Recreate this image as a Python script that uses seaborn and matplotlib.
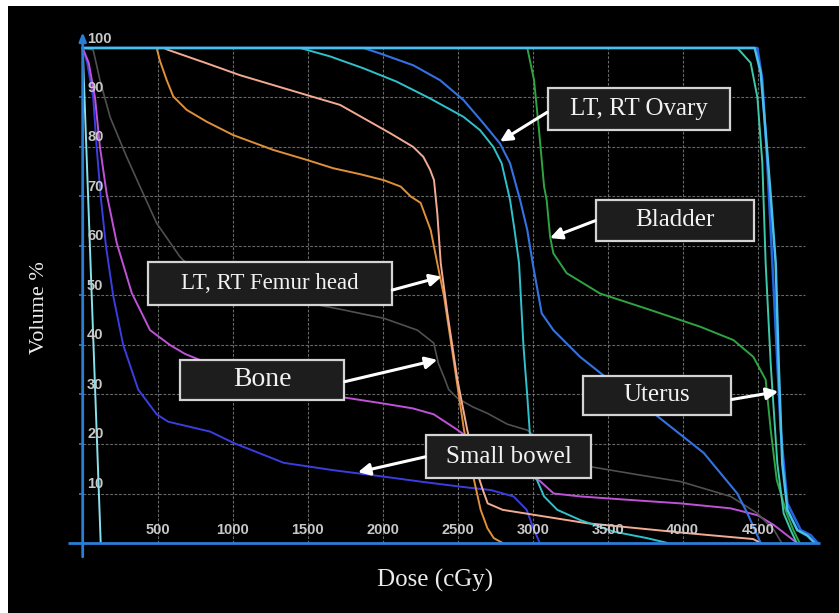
import matplotlib
matplotlib.use("Agg")
import matplotlib.pyplot as plt
from matplotlib.patches import Rectangle
import seaborn as sns
import pandas as pd

# ---- dose-volume histogram data (dose in cGy, volume in %) ----
body_dose = [0, 120]
body_vol = [100, 0]

bowel_dose = [0, 30, 70, 93, 120, 155, 203, 270, 370, 493, 570, 850, 1007, 1340, 1673, 1984,
              2253, 2540, 2720, 2873, 2960, 3000, 3047]
bowel_vol = [100, 97, 90, 80, 70, 60, 50, 40, 31, 26, 24.5, 22.5, 20.2, 16.2, 14.7, 13.5,
             12.4, 11.3, 10.7, 9.4, 6.7, 3.3, 0]

rectum_dose = [0, 40, 82, 115, 160, 227, 327, 449, 582, 682, 900, 1200, 1500, 1763, 2000, 2200,
               2340, 2491, 2700, 2900, 3049, 3140, 3320, 3600, 3987, 4320, 4500, 4609, 4720, 4760]
rectum_vol = [100, 97, 90, 80, 70.5, 60.6, 50.5, 43, 40, 38.2, 35.5, 32.5, 30.5, 29.3, 28.2, 27.2,
              26.0, 23.0, 18.5, 15, 12.5, 10, 9.4, 8.8, 8.0, 7.0, 5.6, 3.6, 1, 0]

bone_dose = [0, 70, 115, 183, 293, 382, 493, 649, 675, 900, 1200, 1500, 1720, 2007, 2231, 2340,
             2371, 2409, 2440, 2500, 2600, 2698, 2831, 2964, 3100, 3387, 3700, 3987, 4320, 4498,
             4609, 4660]
bone_vol = [100, 99.6, 93.5, 86, 78, 72, 64.6, 57.8, 57, 53.5, 50.5, 48.5, 47.2, 45.4, 43, 40.4,
            36.3, 33.5, 31, 29.2, 27.5, 26.2, 24.0, 22.8, 19.5, 15.4, 13.8, 12.4, 9.4, 6,
            2.6, 0]

femur_l_dose = [0, 493, 515, 560, 604, 693, 827, 1004, 1271, 1493, 1671, 1850, 2007, 2120, 2187,
                2253, 2320, 2364, 2409, 2476, 2542, 2609, 2653, 2698, 2740, 2800]
femur_l_vol = [100, 100, 97.4, 93.5, 90.2, 87.5, 85.1, 82.4, 79.4, 77.4, 75.7, 74.5, 73.3, 72, 70,
               68.7, 63.2, 56.5, 49.8, 36.3, 22.8, 12.7, 6.7, 3, 1, 0]

femur_r_dose = [0, 540, 571, 827, 1049, 1271, 1493, 1716, 2049, 2204, 2271, 2316, 2342, 2364,
                2387, 2431, 2498, 2564, 2631, 2670, 2700, 2800, 3360, 4027, 4470, 4520]
femur_r_vol = [100, 100, 99.6, 96.9, 94.5, 92.5, 90.5, 88.5, 82.8, 80, 78, 75.4, 73.3, 66.6,
               56.5, 46.5, 33, 22.8, 14.1, 10.5, 8.0, 6.7, 4.0, 2.0, 0.8, 0]

ovary_l_dose = [0, 1449, 1649, 1871, 2093, 2316, 2538, 2649, 2738, 2793, 2849, 2880, 2909, 2938,
                2964, 2987, 3009, 3076, 3164, 3320, 3540, 3760, 3900]
ovary_l_vol = [100, 100, 98.3, 95.9, 93.2, 89.8, 86.1, 83.4, 80, 76.7, 69.3, 63, 56.5, 40,
               29.6, 19.5, 14.1, 9.4, 6.7, 4.6, 2.3, 1, 0]

ovary_r_dose = [0, 1871, 1982, 2204, 2382, 2538, 2671, 2782, 2849, 2916, 2964, 3004, 3060, 3138,
                3316, 3453, 3807, 4140, 4364, 4431, 4520]
ovary_r_vol = [100, 100, 98.9, 96.5, 93.5, 89.5, 84.8, 80.7, 76.7, 69.3, 63.2, 55.8, 46.4, 43,
               37.6, 34.3, 26.2, 18.2, 10, 6, 0]

bladder_dose = [0, 2964, 3009, 3042, 3076, 3093, 3116, 3138, 3227, 3449, 3782, 4116, 4338, 4471,
                4553, 4587, 4627, 4693, 4738, 4780]
bladder_vol = [100, 100, 93.5, 83.4, 72, 69.3, 61.9, 58.5, 54.5, 50.4, 47.1, 43.7, 41, 37.6,
               33, 22.8, 12.7, 6, 2.6, 0]

ctv_dose = [0, 4364, 4453, 4498, 4531, 4553, 4587, 4631, 4673, 4720, 4760]
ctv_vol = [100, 100, 97, 90, 76.7, 56.5, 36, 16, 6, 2.6, 0]

ptv_dose = [0, 4498, 4531, 4564, 4609, 4653, 4698, 4787, 4853, 4900]
ptv_vol = [100, 100, 93.5, 76.7, 49.8, 22.8, 8, 2.6, 1.6, 0]

uterus_dose = [0, 4480, 4520, 4553, 4587, 4620, 4640, 4664, 4698, 4764, 4831, 4880]
uterus_vol = [100, 100, 95, 83, 70, 56.5, 36, 16, 6.7, 2.6, 1.5, 0]

x_ticks = [500, 1000, 1500, 2000, 2500, 3000, 3500, 4000, 4500]
y_ticks = [10, 20, 30, 40, 50, 60, 70, 80, 90, 100]

# structure -> (dose, volume, colour, width)
curves = [
    ("Body", body_dose, body_vol, "#86e2ea", 1.4),
    ("Small bowel", bowel_dose, bowel_vol, "#3a3ee0", 1.4),
    ("Rectum", rectum_dose, rectum_vol, "#c052d8", 1.4),
    ("Bone", bone_dose, bone_vol, "#505050", 1.2),
    ("LT Femur head", femur_l_dose, femur_l_vol, "#e0903a", 1.4),
    ("RT Femur head", femur_r_dose, femur_r_vol, "#f2aa92", 1.4),
    ("LT Ovary", ovary_l_dose, ovary_l_vol, "#30c2cc", 1.4),
    ("RT Ovary", ovary_r_dose, ovary_r_vol, "#3472e4", 1.5),
    ("Bladder", bladder_dose, bladder_vol, "#2ea443", 1.4),
    ("CTV", ctv_dose, ctv_vol, "#3ec8aa", 1.4),
    ("PTV", ptv_dose, ptv_vol, "#2266e2", 1.8),
    ("Uterus", uterus_dose, uterus_vol, "#48c0ea", 1.8),
]

frames = []
for name, d, v, _, _ in curves:
    frames.append(pd.DataFrame({"structure": name, "dose": d, "volume": v}))
dvh = pd.concat(frames, ignore_index=True)

sns.set_style("dark", {"axes.facecolor": "black"})
plt.rcParams["font.family"] = ["Liberation Serif", "DejaVu Serif"]

W, H = 839, 613
fig = plt.figure(figsize=(W / 100, H / 100), dpi=100, facecolor="white")
ax = fig.add_axes([8 / W, 0, (W - 8) / W, (H - 6) / H])
ax.set_facecolor("black")
for s in ax.spines.values():
    s.set_visible(False)
ax.set_xticks([])
ax.set_yticks([])
ax.set_xlim(-498, 5042)
ax.set_ylim(-14.14, 108.48)

# dotted grid
grid_kw = dict(color="#8c8c8c", lw=0.8, linestyle=(0, (2.5, 1.5)), alpha=0.75, zorder=1)
ax.hlines(y_ticks[:-1], 0, 4815, **grid_kw)
ax.vlines(x_ticks, 0, 100, **grid_kw)

# curves
for name, _, _, color, lw in curves:
    sns.lineplot(data=dvh[dvh["structure"] == name], x="dose", y="volume",
                 color=color, lw=lw, sort=False, estimator=None, ax=ax, zorder=3)
ax.set_xlabel("")
ax.set_ylabel("")

# axis lines
axis_blue = "#2a7ed6"
ax.plot([-98, 4915], [0, 0], color=axis_blue, lw=2.0, zorder=4, solid_capstyle="butt")
ax.annotate("", xy=(0, 103.2), xytext=(0, -2.8),
            arrowprops=dict(arrowstyle="-|>,head_length=0.5,head_width=0.2",
                            color=axis_blue, lw=2.0, shrinkA=0, shrinkB=0), zorder=4)
ax.hlines(y_ticks[:-1], -25, 0, color=axis_blue, lw=1.2, zorder=4)

# tick labels inside the plot
tick_font = dict(family=["Liberation Sans", "DejaVu Sans"], fontsize=10.5,
                 fontweight="bold", color="#c8c8c8")
for v in y_ticks:
    ax.text(29, v + (1.8 if v == 100 else 2.0), str(v), ha="left", va="center",
            zorder=5, **tick_font)
for d in x_ticks:
    ax.text(d, 2.6, str(d), ha="center", va="center", zorder=5, **tick_font)

# axis titles
fig.text(40 / W, 1 - 308 / H, "Volume %", rotation=90, ha="center", va="center",
         fontsize=16, color="#ececec")
fig.text(435 / W, 1 - 580 / H, "Dose (cGy)", ha="center", va="center",
         fontsize=18, color="#ececec")

# labelled call-outs: text, box (dose0, dose1, vol0, vol1), arrow start, arrow tip, font size
callouts = [
    ("LT, RT Femur head", (435, 2062, 48.1, 56.8), (2064, 51.1), (2393, 53.8), 16.5),
    ("Bone", (649, 1742, 28.9, 37.0), (1748, 32.6), (2364, 37.0), 20),
    ("Small bowel", (2289, 3389, 13.1, 21.8), (2283, 17.4), (1835, 14.3), 18),
    ("LT, RT Ovary", (3102, 4315, 83.4, 91.9), (3096, 87.0), (2782, 81.1), 18),
    ("Bladder", (3422, 4475, 61.0, 69.3), (3416, 65.1), (3115, 61.6), 18),
    ("Uterus", (3335, 4322, 25.9, 33.7), (4328, 29.0), (4637, 30.6), 18),
]
for label, (d0, d1, v0, v1), start, tip, fs in callouts:
    ax.add_patch(Rectangle((d0, v0), d1 - d0, v1 - v0, facecolor="#1d1d1d",
                           edgecolor="#d4d4d4", lw=1.6, zorder=6))
    ax.text((d0 + d1) / 2, (v0 + v1) / 2, label, ha="center", va="center",
            fontsize=fs, color="#f2f2f2", zorder=7)
    ax.annotate("", xy=tip, xytext=start,
                arrowprops=dict(arrowstyle="-|>,head_length=0.7,head_width=0.35",
                                color="white", lw=2.2, shrinkA=0, shrinkB=0),
                zorder=7)

fig.savefig("out.png", dpi=100, facecolor="white")
